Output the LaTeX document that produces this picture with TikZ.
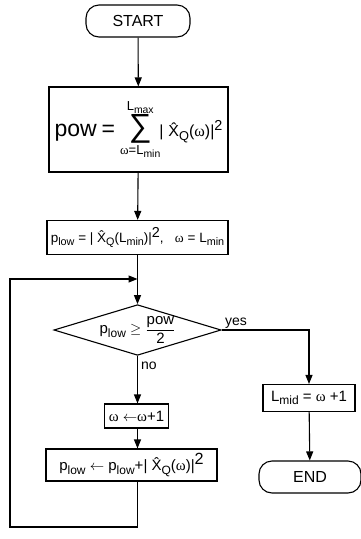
\documentclass[tikz,border=0pt]{standalone}
\usepackage{amsmath}
\usepackage{graphicx}
\usepackage{fontspec}
\setmainfont{Liberation Sans}
\newfontfamily\seriffam{Liberation Serif}
\usetikzlibrary{shapes.geometric,arrows.meta}
\newcommand\om{{\seriffam ω}}
\newcommand\sbs[1]{\raisebox{-0.4ex}{\scalebox{0.8}{#1}}}
\newcommand\sps[1]{\raisebox{0.75ex}{\scalebox{0.9}{#1}}}
\newcommand\Xh{\^{X}\sbs{Q}}
\begin{document}
\begin{tikzpicture}[x=1pt,y=-1pt,
  line width=1.1pt,
  base/.style={draw,line width=1.1pt,inner sep=1pt,align=center,font=\fontsize{15}{17}\selectfont},
  term/.style={base,rounded corners=13pt,minimum width=104pt,minimum height=32pt,font=\fontsize{16}{18}\selectfont},
  proc/.style={base,rectangle},
  dec/.style={base,diamond,minimum width=167pt,minimum height=50pt,inner sep=0pt,aspect=3.3},
  arr/.style={-{Triangle[length=9pt,width=7pt]},line width=1.1pt},
  lab/.style={font=\fontsize{14}{16}\selectfont,inner sep=1pt}]
\useasboundingbox (0,0) rectangle (361,539);
\node[term] (start) at (138,21) {START};
\node[proc,minimum width=179pt,minimum height=85pt,text width=175pt] (pow) at (138.5,129.5)
  {{\fontsize{23}{23}\selectfont pow = }$\displaystyle\mathop{\text{\fontsize{32}{32}\selectfont ∑}}\limits_{\text{\fontsize{13}{13}\selectfont\om=L\sbs{min}}}^{\text{\fontsize{13}{13}\selectfont L\sbs{max}}}$\kern-1pt{\fontsize{16}{16}\selectfont| \Xh(\om)|\sps{2}}};
\node[proc,minimum width=181pt,minimum height=34pt,inner sep=0pt,font=\fontsize{13.5}{15}\selectfont] (plow) at (137.5,237.5)
  {p\sbs{low} = | \Xh(L\sbs{min})|\sps{\fontsize{16}{16}\selectfont 2},\ \ \ \om{} = L\sbs{min}};
\coordinate (join) at (137.5,279);
\node[dec] (dia) at (137.5,330) {p\sbs{low} $\geq$ $\dfrac{\text{pow}}{\text{2}}$};
\node[proc,minimum width=64pt,minimum height=24pt] (omb) at (136.5,416) {\om{} $\leftarrow$\om+1};
\node[proc,minimum width=171pt,minimum height=32pt] (fin) at (131.5,465)
  {p\sbs{low} $\leftarrow$ p\sbs{low}+| \Xh(\om)|\sps{\fontsize{18}{18}\selectfont 2}};
\node[proc,minimum width=92pt,minimum height=27pt] (lmid) at (309,398) {L\sbs{mid} = \om{} +1};
\node[term,minimum width=102pt] (end) at (310,477) {END};
\coordinate (lb) at (10,527);
\draw[arr] (start) -- (pow);
\draw[arr] (pow) -- (plow);
\draw[arr] (plow) -- (dia);
\draw[arr] (dia.east) -| (lmid.north);
\node[lab,anchor=south west] (yes) at ([xshift=2pt]dia.east) {yes};
\draw[arr] (lmid) -- (end);
\draw[arr] (dia.south) -- (omb.north -| dia.south);
\node[lab,anchor=north west] (no) at ([xshift=2pt,yshift=-5pt]dia.south) {no};
\draw[arr] (omb.south -| dia.south) -- (fin.north -| dia.south);
\draw[arr] (fin.south -| dia.south) |- (lb) |- (join);
\end{tikzpicture}
\end{document}
